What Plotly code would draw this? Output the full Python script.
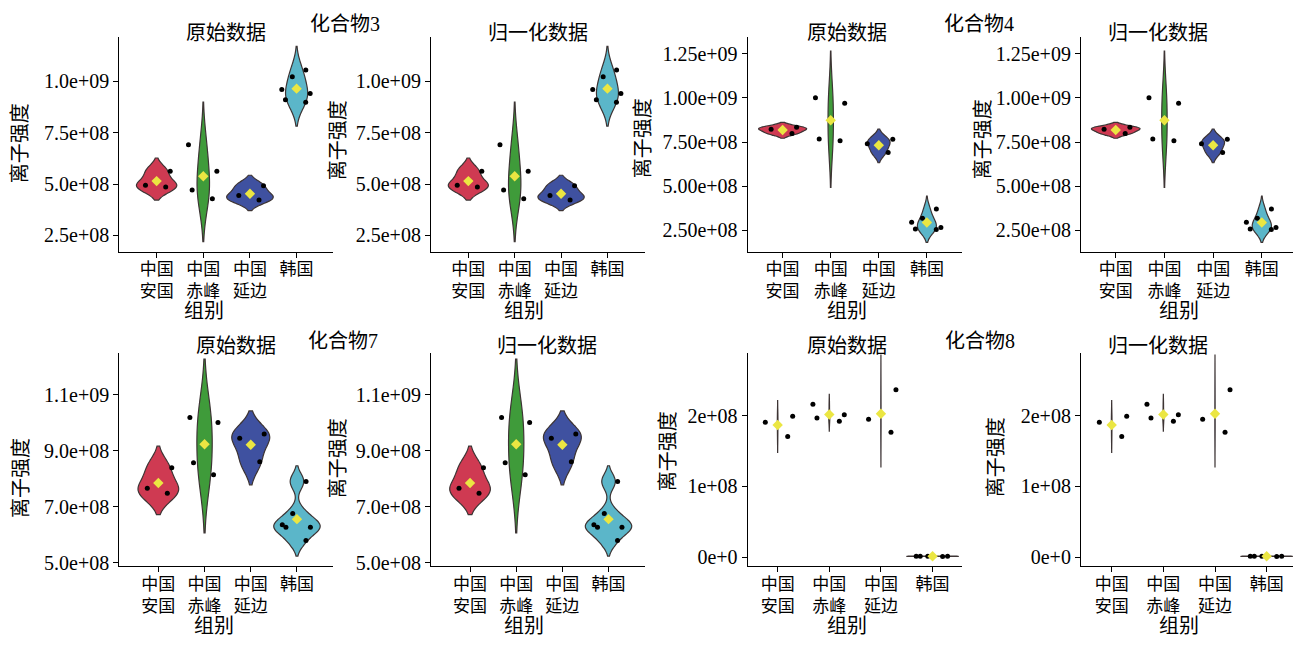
import numpy as np
import plotly.graph_objects as go

# ---------------- data ----------------
categories = ["中国<br>安国", "中国<br>赤峰", "中国<br>延边", "韩国"]

# 化合物3  离子强度
c3_anguo = [4.86e8, 4.94e8, 5.63e8]
c3_chifeng = [6.91e8, 5.63e8, 4.71e8, 4.28e8]
c3_yanbian = [4.92e8, 4.44e8, 4.22e8]
c3_hanguo = [10.55e8, 10.22e8, 9.60e8, 9.41e8, 9.11e8, 8.98e8]
# 化合物4
c4_anguo = [8.34e8, 8.22e8, 7.99e8]
c4_chifeng = [10.00e8, 9.69e8, 7.68e8, 7.58e8]
c4_yanbian = [7.66e8, 7.40e8, 6.91e8]
c4_hanguo = [3.71e8, 3.19e8, 2.97e8, 2.67e8, 2.58e8, 2.56e8]
# 化合物7
c7_anguo = [8.40e8, 7.67e8, 7.49e8]
c7_chifeng = [10.20e8, 10.02e8, 8.58e8, 8.15e8]
c7_yanbian = [9.61e8, 9.45e8, 8.61e8]
c7_hanguo = [7.91e8, 6.76e8, 6.36e8, 6.27e8, 6.27e8, 5.80e8]
# 化合物8
c8_anguo = [1.991e8, 1.907e8, 1.707e8]
c8_chifeng = [2.163e8, 2.014e8, 1.967e8, 1.921e8]
c8_yanbian = [2.367e8, 1.949e8, 1.767e8]
c8_hanguo = [1.6e6, 1.5e6, 1.4e6, 1.3e6, 1.2e6]

# KDE bandwidths of the violins
c3_bw = [0.32e8, 1.04e8, 0.255e8, 0.58e8]
c4_bw = [0.137e8, 1.32e8, 0.29e8, 0.365e8]
c7_bw = [0.385e8, 1.04e8, 0.41e8, 0.28e8]
c8_bw = [0.112e8, 0.070e8, 0.245e8, 0.001e8]

# y tick values / labels
c3_tickvals = [2.5e8, 5.0e8, 7.5e8, 1.0e9]
c3_ticktext = ["2.5e+08", "5.0e+08", "7.5e+08", "1.0e+09"]
c4_tickvals = [2.5e8, 5.0e8, 7.5e8, 1.0e9, 1.25e9]
c4_ticktext = ["2.50e+08", "5.00e+08", "7.50e+08", "1.00e+09", "1.25e+09"]
c7_tickvals = [5.0e8, 7.0e8, 9.0e8, 1.1e9]
c7_ticktext = ["5.0e+08", "7.0e+08", "9.0e+08", "1.1e+09"]
c8_tickvals = [0, 1e8, 2e8]
c8_ticktext = ["0e+0", "1e+08", "2e+08"]

compounds = {
    "化合物3": dict(groups=[c3_anguo, c3_chifeng, c3_yanbian, c3_hanguo], bw=c3_bw,
                 tv=c3_tickvals, tt=c3_ticktext, yr=[1.70e8, 1.215e9]),
    "化合物4": dict(groups=[c4_anguo, c4_chifeng, c4_yanbian, c4_hanguo], bw=c4_bw,
                 tv=c4_tickvals, tt=c4_ticktext, yr=[1.29e8, 1.343e9]),
    "化合物7": dict(groups=[c7_anguo, c7_chifeng, c7_yanbian, c7_hanguo], bw=c7_bw,
                 tv=c7_tickvals, tt=c7_ticktext, yr=[4.88e8, 1.2506e9]),
    "化合物8": dict(groups=[c8_anguo, c8_chifeng, c8_yanbian, c8_hanguo], bw=c8_bw,
                 tv=c8_tickvals, tt=c8_ticktext, yr=[-1.26e7, 2.888e8]),
}

# ---------------- styling / layout ----------------
W, H = 1297, 645
fills = ["#cf3a52", "#3f9b3a", "#3f51a0", "#5bb6c9"]
outline = "#3d3434"
mean_color = "#ebe642"
FONT = "Liberation Serif, 'Noto Sans CJK SC', serif"


def fx(px):
    return px / W


def fy(py):
    return 1 - py / H


# panels: compound, panel title, x-domain px, y-domain px, x range, annotation positions
panels = [
    ("化合物3", "原始数据", (119.3, 333), (37.7, 255), (-0.80, 3.78), (226, 33.5), (20, 145), (204, 315)),
    ("化合物3", "归一化数据", (431, 645), (37.7, 255), (-0.805, 3.81), (538, 33), (338, 142), (524, 315)),
    ("化合物4", "原始数据", (747.7, 962), (37.7, 255), (-0.726, 3.73), (847, 33), (643, 140), (847, 315)),
    ("化合物4", "归一化数据", (1081, 1293), (37.7, 255), (-0.713, 3.64), (1158, 33), (983, 141), (1179, 315)),
    ("化合物7", "原始数据", (119.3, 333), (357.3, 573.3), (-0.845, 3.78), (236, 350), (21, 484), (214, 634)),
    ("化合物7", "归一化数据", (431, 645), (357.3, 573.3), (-0.846, 3.79), (546.5, 350), (338, 464), (524, 634)),
    ("化合物8", "原始数据", (747.7, 962), (357.3, 573.3), (-0.58, 3.57), (847, 350), (668, 457), (847, 634)),
    ("化合物8", "归一化数据", (1081, 1293), (357.3, 573.3), (-0.594, 3.51), (1158, 350), (996, 463), (1179, 634)),
]
compound_titles = [("化合物3", 345, 24.5), ("化合物4", 979, 24), ("化合物7", 343, 345), ("化合物8", 980, 345)]

fig = go.Figure()
annotations = []
layout_axes = {}

for k, (cname, ptitle, xd, yd, xr, tpos, ylpos, xlpos) in enumerate(panels):
    comp = compounds[cname]
    idx = "" if k == 0 else str(k + 1)
    xa, ya = "x" + idx, "y" + idx
    for gi, vals in enumerate(comp["groups"]):
        fig.add_trace(go.Violin(
            x=[categories[gi]] * len(vals), y=vals, xaxis=xa, yaxis=ya,
            scalegroup="s%d" % k, scalemode="width",
            bandwidth=comp["bw"][gi], spanmode="soft",
            fillcolor=fills[gi], line=dict(color=outline, width=1.2),
            points="all", jitter=0.75, pointpos=0,
            marker=dict(color="black", size=5),
            box_visible=False, meanline_visible=False,
            showlegend=False, hoverinfo="skip",
        ))
    fig.add_trace(go.Scatter(
        x=categories, y=[float(np.mean(v)) for v in comp["groups"]],
        xaxis=xa, yaxis=ya, mode="markers",
        marker=dict(symbol="diamond", color=mean_color, size=8),
        showlegend=False, hoverinfo="skip",
    ))
    common = dict(showline=True, linecolor="black", linewidth=1.2, ticks="outside",
                  ticklen=5, tickwidth=1.2, tickcolor="black", showgrid=False,
                  zeroline=False, fixedrange=True)
    layout_axes["xaxis" + idx] = dict(
        domain=[fx(xd[0]), fx(xd[1])], anchor=ya, type="category",
        categoryorder="array", categoryarray=categories, range=list(xr),
        ticklabelstandoff=-3,
        tickfont=dict(size=17, family=FONT, color="black"), **common)
    layout_axes["yaxis" + idx] = dict(
        domain=[fy(yd[1]), fy(yd[0])], anchor=xa, range=comp["yr"],
        tickvals=comp["tv"], ticktext=comp["tt"],
        tickfont=dict(size=20, family=FONT, color="black"), **common)
    annotations.append(dict(text=ptitle, x=fx(tpos[0]), y=fy(tpos[1]), xref="paper", yref="paper",
                            showarrow=False, xanchor="center", yanchor="middle",
                            font=dict(size=20, family=FONT, color="black")))
    annotations.append(dict(text="离子强度", x=fx(ylpos[0]), y=fy(ylpos[1]), xref="paper", yref="paper",
                            showarrow=False, xanchor="center", yanchor="middle", textangle=-90,
                            font=dict(size=20, family=FONT, color="black")))
    annotations.append(dict(text="组别", x=fx(xlpos[0]), y=fy(xlpos[1]), xref="paper", yref="paper",
                            showarrow=False, xanchor="center", yanchor="middle",
                            font=dict(size=20, family=FONT, color="black")))

for text, px, py in compound_titles:
    annotations.append(dict(text=text, x=fx(px), y=fy(py), xref="paper", yref="paper",
                            showarrow=False, xanchor="center", yanchor="middle",
                            font=dict(size=20, family=FONT, color="black")))

fig.update_layout(
    width=W, height=H, margin=dict(l=0, r=0, t=0, b=0),
    paper_bgcolor="white", plot_bgcolor="white",
    violinmode="overlay", violingap=0, violingroupgap=0, showlegend=False,
    font=dict(family=FONT, color="black"),
    annotations=annotations, **layout_axes,
)

fig.write_html("out.html", config={"displayModeBar": False},
               post_script="document.body.style.margin='0';")
